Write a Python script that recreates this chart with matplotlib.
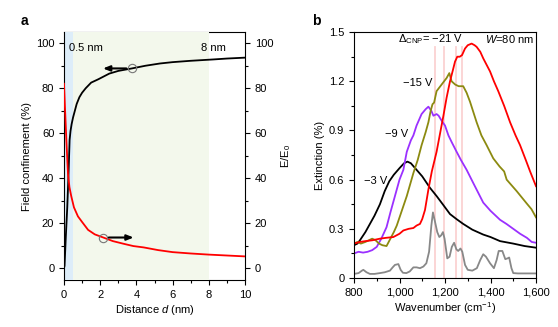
import numpy as np
import matplotlib
matplotlib.use('Agg')
import matplotlib.pyplot as plt
from matplotlib.ticker import MultipleLocator

plt.rcParams['font.family'] = ['Liberation Sans', 'DejaVu Sans']
plt.rcParams['font.size'] = 8
plt.rcParams['mathtext.fontset'] = 'custom'
plt.rcParams['mathtext.rm'] = 'Liberation Sans'
plt.rcParams['mathtext.it'] = 'Liberation Sans:italic'
plt.rcParams['axes.unicode_minus'] = True

# panel a: field confinement (left) and E/E0 (right) vs distance
d_conf = [0, 0.03, 0.1, 0.18, 0.25, 0.31, 0.36, 0.42, 0.5, 0.6, 0.7, 0.85, 1.0, 1.2,
          1.5, 1.9, 2.5, 3.0, 3.75, 4.5, 5.3, 6.0, 7.0, 8.25, 9.0, 10.0]
conf = [0, 1, 14, 27, 42, 57, 61, 64, 67, 70, 73, 76, 78, 80,
        82.5, 84, 86.5, 87.7, 88.8, 90, 91, 91.6, 92.2, 92.8, 93.2, 93.6]
d_enh = [0, 0.05, 0.13, 0.22, 0.3, 0.4, 0.55, 0.77, 1.0, 1.33, 1.7, 2.17, 2.7, 3.3,
         3.83, 4.4, 5.2, 6.0, 7.0, 8.0, 9.0, 10.0]
enh = [82, 72, 57, 42, 36, 32, 27, 23, 20.5, 17, 15, 13.6, 12, 10.8,
       9.8, 9.2, 8.0, 7.1, 6.5, 6.0, 5.6, 5.2]
conf_mark = (3.75, 88.8)
enh_mark = (2.17, 13.6)

# panel b: extinction spectra at several gate offsets
wn_3 = [800, 815, 826, 850, 870, 890, 914, 935, 955, 975, 1000, 1020, 1035, 1050, 1075,
        1100, 1134, 1163, 1190, 1222, 1250, 1280, 1320, 1368, 1400, 1442, 1500, 1550, 1600]
ext_3 = [0.20, 0.21, 0.23, 0.28, 0.33, 0.38, 0.45, 0.53, 0.59, 0.63, 0.67, 0.70, 0.71, 0.70, 0.66,
         0.62, 0.55, 0.50, 0.45, 0.39, 0.36, 0.33, 0.295, 0.265, 0.25, 0.225, 0.21, 0.195, 0.185]
wn_9 = [800, 820, 840, 860, 880, 900, 920, 943, 960, 980, 1000, 1017, 1032, 1050, 1061, 1075,
        1097, 1115, 1127, 1140, 1149, 1163, 1172, 1185, 1200, 1215, 1229, 1251, 1270, 1295,
        1324, 1368, 1400, 1442, 1470, 1500, 1530, 1560, 1581, 1600]
ext_9 = [0.15, 0.16, 0.155, 0.16, 0.17, 0.19, 0.24, 0.31, 0.40, 0.50, 0.60, 0.66, 0.77, 0.84, 0.87, 0.93,
         1.00, 1.03, 1.045, 1.02, 0.99, 1.00, 0.99, 0.96, 0.93, 0.87, 0.83, 0.77, 0.72, 0.66,
         0.58, 0.46, 0.41, 0.355, 0.33, 0.30, 0.27, 0.245, 0.22, 0.215]
wn_15 = [800, 815, 830, 850, 865, 880, 895, 910, 925, 943, 960, 975, 988, 1010, 1032, 1061,
         1080, 1097, 1115, 1127, 1137, 1145, 1152, 1163, 1185, 1207, 1219, 1229, 1245, 1260,
         1280, 1295, 1310, 1339, 1360, 1383, 1412, 1440, 1460, 1471, 1515, 1559, 1580, 1600]
ext_15 = [0.21, 0.22, 0.21, 0.22, 0.23, 0.24, 0.23, 0.21, 0.20, 0.195, 0.24, 0.28, 0.32, 0.41, 0.50, 0.64,
          0.72, 0.81, 0.89, 0.95, 1.02, 1.06, 1.07, 1.14, 1.18, 1.22, 1.25, 1.20, 1.18, 1.17,
          1.17, 1.13, 1.075, 0.95, 0.87, 0.81, 0.73, 0.68, 0.65, 0.60, 0.53, 0.455, 0.42, 0.37]
wn_21 = [800, 826, 850, 880, 914, 940, 973, 1000, 1017, 1040, 1061, 1075, 1090, 1100, 1112,
         1127, 1142, 1163, 1178, 1193, 1207, 1222, 1235, 1244, 1254, 1265, 1275, 1288, 1300,
         1317, 1330, 1339, 1355, 1368, 1383, 1398, 1415, 1434, 1460, 1486, 1510, 1530, 1555,
         1574, 1600]
ext_21 = [0.21, 0.22, 0.225, 0.23, 0.24, 0.245, 0.25, 0.27, 0.29, 0.30, 0.305, 0.32, 0.33, 0.36, 0.415,
          0.54, 0.65, 0.77, 0.88, 0.99, 1.10, 1.20, 1.27, 1.32, 1.35, 1.35, 1.36, 1.40, 1.42,
          1.43, 1.42, 1.41, 1.38, 1.34, 1.30, 1.26, 1.20, 1.14, 1.05, 0.95, 0.87, 0.81, 0.72,
          0.65, 0.56]
wn_ph = [800, 820, 835, 841, 855, 870, 890, 914, 935, 958, 970, 980, 995, 1005, 1015, 1030,
         1045, 1061, 1075, 1090, 1105, 1118, 1130, 1140, 1147, 1155, 1166, 1175, 1183, 1191,
         1198, 1210, 1220, 1230, 1240, 1250, 1258, 1268, 1276, 1288, 1300, 1320, 1340, 1355,
         1368, 1380, 1398, 1415, 1427, 1436, 1452, 1465, 1475, 1482, 1492, 1500, 1520, 1600]
ext_ph = [0.025, 0.03, 0.045, 0.05, 0.035, 0.025, 0.025, 0.03, 0.035, 0.045, 0.065, 0.08, 0.085, 0.05, 0.032, 0.03,
          0.04, 0.065, 0.065, 0.06, 0.07, 0.09, 0.16, 0.32, 0.40, 0.35, 0.28, 0.25, 0.26, 0.28,
          0.24, 0.12, 0.13, 0.19, 0.215, 0.175, 0.165, 0.18, 0.16, 0.08, 0.05, 0.045, 0.06, 0.11,
          0.145, 0.13, 0.09, 0.06, 0.11, 0.165, 0.165, 0.115, 0.12, 0.125, 0.06, 0.03, 0.028, 0.028]
phonon_lines = [1155, 1197, 1247, 1275]
wn_ticks = [800, 1000, 1200, 1400, 1600]
wn_labels = ['800', '1,000', '1,200', '1,400', '1,600']
ext_ticks = [0, 0.3, 0.6, 0.9, 1.2, 1.5]
ext_labels = ['0', '0.3', '0.6', '0.9', '1.2', '1.5']

fig = plt.figure(figsize=(5.58, 3.27), dpi=100)
ax = fig.add_axes([0.1147, 0.1437, 0.3244, 0.7584])
axr = ax.twinx()

ax.axvspan(0, 0.5, color='#ddedf9', zorder=3, lw=0)
ax.axvspan(0.5, 8, color='#f3f8ec', zorder=3, lw=0)
ax.spines['left'].set_zorder(4)
ax.plot(d_conf, conf, color='black', lw=1.3, zorder=5)
ax.plot(*conf_mark, 'o', ms=6, mfc='none', mec='#777777', mew=0.8, zorder=6)
ax.annotate('', xy=(2.0, conf_mark[1]), xytext=(conf_mark[0] - 0.15, conf_mark[1]),
            arrowprops=dict(arrowstyle='-|>,head_length=0.5,head_width=0.2', color='black', lw=1.5),
            zorder=6)
ax.text(0.3, 98, '0.5 nm', ha='left', va='center', zorder=6)
ax.text(8.95, 98, '8 nm', ha='right', va='center', zorder=6)

axr.plot(d_enh, enh, color='red', lw=1.3, zorder=5)
axr.plot(*enh_mark, 'o', ms=6, mfc='none', mec='#777777', mew=0.8, zorder=6)
axr.annotate('', xy=(4.0, enh_mark[1]), xytext=(enh_mark[0] + 0.15, enh_mark[1]),
             arrowprops=dict(arrowstyle='-|>,head_length=0.5,head_width=0.2', color='black', lw=1.5),
             zorder=6)

for a in (ax, axr):
    a.set_xlim(0, 10)
    a.set_ylim(-5.3, 105)
    a.yaxis.set_major_locator(MultipleLocator(20))
    a.yaxis.set_minor_locator(MultipleLocator(10))
    a.tick_params(which='major', direction='out', length=3.5, width=0.8)
    a.tick_params(which='minor', direction='out', length=2, width=0.8)
ax.xaxis.set_major_locator(MultipleLocator(2))
ax.xaxis.set_minor_locator(MultipleLocator(1))
ax.spines['right'].set_visible(False)
for s in ('top', 'bottom', 'left'):
    axr.spines[s].set_visible(False)
ax.set_xlabel('Distance $d$ (nm)', labelpad=2)
ax.set_ylabel('Field confinement (%)', labelpad=3)
axr.set_ylabel('E/E$_0$', labelpad=4)

# panel b
bx = fig.add_axes([0.6344, 0.1498, 0.3262, 0.752])
for w in phonon_lines:
    bx.plot([w, w], [0, 1.41], color='#fbd2d2', lw=1.3, zorder=1)
bx.plot(wn_ph, ext_ph, color='#888888', lw=1.3)
bx.plot(wn_3, ext_3, color='black', lw=1.3)
bx.plot(wn_9, ext_9, color='#9b30ff', lw=1.3)
bx.plot(wn_15, ext_15, color='#8c8a10', lw=1.3)
bx.plot(wn_21, ext_21, color='red', lw=1.3)
bx.text(1135, 1.455, r'$\Delta_{\rm CNP}$= −21 V', ha='center', va='center')
bx.text(1590, 1.455, '$W$=80 nm', ha='right', va='center')
bx.text(1080, 1.19, '−15 V', ha='center', va='center')
bx.text(987, 0.88, '−9 V', ha='center', va='center')
bx.text(893, 0.59, '−3 V', ha='center', va='center')

bx.set_xlim(800, 1600)
bx.set_ylim(0, 1.5)
bx.set_xticks(wn_ticks)
bx.set_xticklabels(wn_labels)
bx.set_yticks(ext_ticks)
bx.set_yticklabels(ext_labels)
bx.xaxis.set_minor_locator(MultipleLocator(100))
bx.yaxis.set_minor_locator(MultipleLocator(0.15))
bx.tick_params(which='major', direction='out', length=3.5, width=0.8)
bx.tick_params(which='minor', direction='out', length=2, width=0.8)
bx.set_xlabel('Wavenumber (cm$^{-1}$)', labelpad=2)
bx.set_ylabel('Extinction (%)', labelpad=3)

fig.text(24 / 558, 1 - 21 / 327, 'a', fontsize=10, fontweight='bold', ha='center', va='center')
fig.text(316 / 558, 1 - 21 / 327, 'b', fontsize=10, fontweight='bold', ha='center', va='center')

fig.savefig('out.png', dpi=100)
